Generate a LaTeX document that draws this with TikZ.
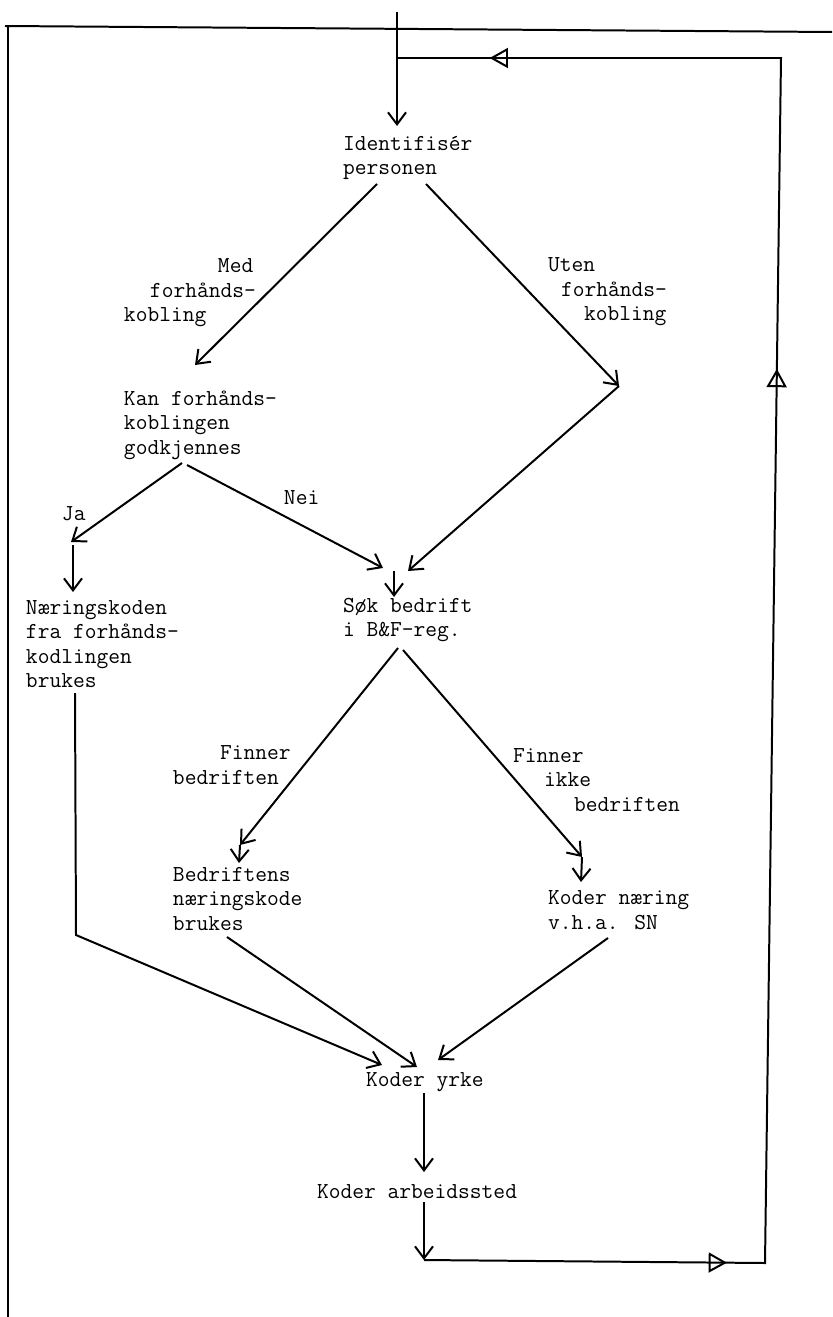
\documentclass[tikz,border=0pt]{standalone}
\usepackage{fontspec}
\usetikzlibrary{arrows.meta,decorations.markings}
\newlength\pxl
\setlength\pxl{0.03cm}
\begin{document}
\begin{tikzpicture}[line width=1.7pt,
  >={Straight Barb[length=3.6mm,width=5.4mm]},
  looptri/.tip={Triangle[open,length=5.5mm,width=6mm]},
  tekst/.style={inner sep=0pt,align=left,anchor=west,
    font=\fontsize{19.5}{20.9}\selectfont\ttfamily},
  loopmarks/.style={postaction={decorate},decoration={markings,
    mark=at position 0.157 with {\arrow{looptri}},
    mark=at position 0.640 with {\arrow{looptri}},
    mark=at position 0.952 with {\arrow{looptri}}}}]
\def\h{0.03}
\def\punkt#1#2{({(#1)*\h},{-(#2)*\h})}
\useasboundingbox \punkt{0}{0} rectangle \punkt{832}{1317};

% ramme
\draw \punkt{5}{26} -- \punkt{832}{32};
\draw \punkt{8}{26} -- \punkt{8}{1317};

% tekster
\node[tekst] (ident) at \punkt{342}{158} {Identifisér\\personen};
\node[tekst] (med) at \punkt{123}{293} {\hspace*{94\pxl}Med\\\hspace*{26\pxl}forhånds-\\kobling};
\node[tekst] (uten) at \punkt{547}{292} {Uten\\\hspace*{13\pxl}forhånds-\\\hspace*{36\pxl}kobling};
\node[tekst] (kan) at \punkt{123}{425} {Kan forhånds-\\koblingen\\godkjennes};
\node[tekst] (ja) at \punkt{61}{514} {Ja};
\node[tekst] (nei) at \punkt{283}{498} {Nei};
\node[tekst] (naer) at \punkt{25}{644} {Næringskoden\\fra forhånds-\\kodlingen\\brukes};
\node[tekst] (sok) at \punkt{342}{620} {Søk bedrift\\i B\&F-reg.};
\node[tekst] (finner) at \punkt{172}{765} {\phantom{bedr}Finner\\bedriften};
\node[tekst] (ikke) at \punkt{512}{780} {Finner\\\hspace*{31\pxl}ikke\\\hspace*{61\pxl}bedriften};
\node[tekst] (bedr) at \punkt{172}{899} {Bedriftens\\næringskode\\brukes};
\node[tekst] (sn) at \punkt{547}{910} {Koder næring\\v.h.a. SN};
\node[tekst] (yrke) at \punkt{365}{1082} {Koder yrke};
\node[tekst] (arb) at \punkt{316}{1192} {Koder arbeidssted};

% endepunkter
\path \punkt{397}{12} coordinate (inn);
\path \punkt{397}{126} coordinate (identinn);
\path \punkt{377}{184} coordinate (identv);
\path \punkt{426}{184} coordinate (identh);
\path \punkt{195}{365} coordinate (kaninn);
\path \punkt{619}{386} coordinate (knekk);
\path \punkt{182}{463} coordinate (kanv);
\path \punkt{187}{465} coordinate (kanh);
\path \punkt{71}{542} coordinate (jaslutt);
\path \punkt{73}{545} coordinate (janed);
\path \punkt{73}{592} coordinate (naerinn);
\path \punkt{383}{568} coordinate (neislutt);
\path \punkt{408}{571} coordinate (knekkslutt);
\path \punkt{394}{571} coordinate (soktopp);
\path \punkt{394}{597} coordinate (sokinn);
\path \punkt{398}{648} coordinate (sokv);
\path \punkt{403}{650} coordinate (sokh);
\path \punkt{240}{845} coordinate (bedrslutt);
\path \punkt{239}{863} coordinate (bedrinn);
\path \punkt{582}{857} coordinate (snslutt);
\path \punkt{581}{882} coordinate (sninn);
\path \punkt{75}{693} coordinate (naerut);
\path \punkt{76}{935} coordinate (naerknekk);
\path \punkt{382}{1065} coordinate (yrkev);
\path \punkt{227}{937} coordinate (bedrut);
\path \punkt{417}{1067} coordinate (yrkem);
\path \punkt{608}{938} coordinate (snut);
\path \punkt{438}{1060} coordinate (yrkeh);
\path \punkt{424}{1093} coordinate (yrkeut);
\path \punkt{424}{1172} coordinate (arbinn);
\path \punkt{424}{1202} coordinate (arbut);
\path \punkt{424}{1260} coordinate (loopa);
\path \punkt{765}{1263} coordinate (loopb);
\path \punkt{781}{58} coordinate (loopc);
\path \punkt{397}{58} coordinate (loopd);

% piler
\draw[->] (inn) -- (identinn);
\draw[->] (identv) -- (kaninn);
\draw[->] (identh) -- (knekk);
\draw[->] (knekk) -- (knekkslutt);
\draw[->] (kanv) -- (jaslutt);
\draw[->] (janed) -- (naerinn);
\draw[->] (kanh) -- (neislutt);
\draw[->] (soktopp) -- (sokinn);
\draw[->] (sokv) -- (bedrslutt);
\draw[->] (bedrslutt) -- (bedrinn);
\draw[->] (sokh) -- (snslutt);
\draw[->] (snslutt) -- (sninn);
\draw[->] (naerut) -- (naerknekk) -- (yrkev);
\draw[->] (bedrut) -- (yrkem);
\draw[->] (snut) -- (yrkeh);
\draw[->] (yrkeut) -- (arbinn);
\draw[->] (arbut) -- (loopa);
\draw[loopmarks,line join=miter] (loopa) -- (loopb) -- (loopc) -- (loopd);

\end{tikzpicture}
\end{document}
